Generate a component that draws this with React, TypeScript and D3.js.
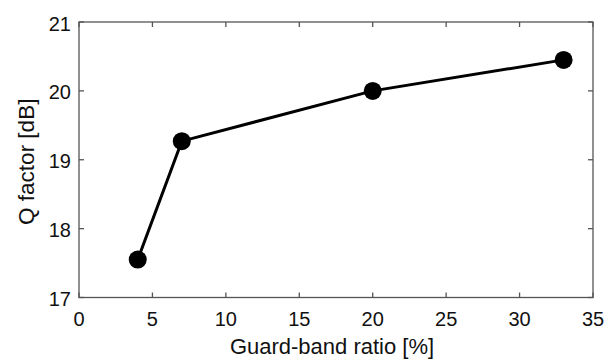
import React from "react";
import * as d3 from "d3";

const guardBand = [4, 7, 20, 33];
const qFactor = [17.55, 19.27, 20.0, 20.45];
const xTicks = [0, 5, 10, 15, 20, 25, 30, 35];
const yTicks = [17, 18, 19, 20, 21];

export default function App() {
  const W = 610, H = 360;
  const left = 79, right = 593, top = 22, bottom = 297.5;
  const x = d3.scaleLinear().domain([0, 35]).range([left, right]);
  const y = d3.scaleLinear().domain([17, 21]).range([bottom, top]);
  const pts = guardBand.map((g, i) => [g, qFactor[i]] as [number, number]);
  const line = d3.line<[number, number]>().x(d => x(d[0])).y(d => y(d[1]));
  const axisColor = "#555";
  const font = "'Liberation Sans', Arial, Helvetica, sans-serif";
  const tl = 5;
  return (
    <svg width={W} height={H} style={{ position: "absolute", left: 0, top: 0, background: "#fff" }}>
      <rect x={left} y={top} width={right - left} height={bottom - top} fill="none" stroke={axisColor} strokeWidth={1.3} />
      {xTicks.map(t => (
        <g key={"x" + t}>
          <line x1={x(t)} x2={x(t)} y1={bottom} y2={bottom - tl} stroke={axisColor} strokeWidth={1.3} />
          <line x1={x(t)} x2={x(t)} y1={top} y2={top + tl} stroke={axisColor} strokeWidth={1.3} />
          <text x={x(t)} y={bottom + 28} textAnchor="middle" fontFamily={font} fontSize={20} fill="#111">{t}</text>
        </g>
      ))}
      {yTicks.map(t => (
        <g key={"y" + t}>
          <line x1={left} x2={left + tl} y1={y(t)} y2={y(t)} stroke={axisColor} strokeWidth={1.3} />
          <line x1={right} x2={right - tl} y1={y(t)} y2={y(t)} stroke={axisColor} strokeWidth={1.3} />
          <text x={left - 8} y={y(t) + 8.6} textAnchor="end" fontFamily={font} fontSize={20} fill="#111">{t}</text>
        </g>
      ))}
      <text x={(left + right) / 2 - 4} y={353.5} textAnchor="middle" fontFamily={font} fontSize={22} fill="#111">Guard-band ratio [%]</text>
      <text transform={`translate(33.5, ${(top + bottom) / 2 + 2}) rotate(-90)`} textAnchor="middle" fontFamily={font} fontSize={22.5} fill="#111">Q factor [dB]</text>
      <path d={line(pts) || ""} fill="none" stroke="#000" strokeWidth={3} />
      {pts.map((p, i) => (
        <circle key={i} cx={x(p[0])} cy={y(p[1])} r={9} fill="#000" />
      ))}
    </svg>
  );
}
